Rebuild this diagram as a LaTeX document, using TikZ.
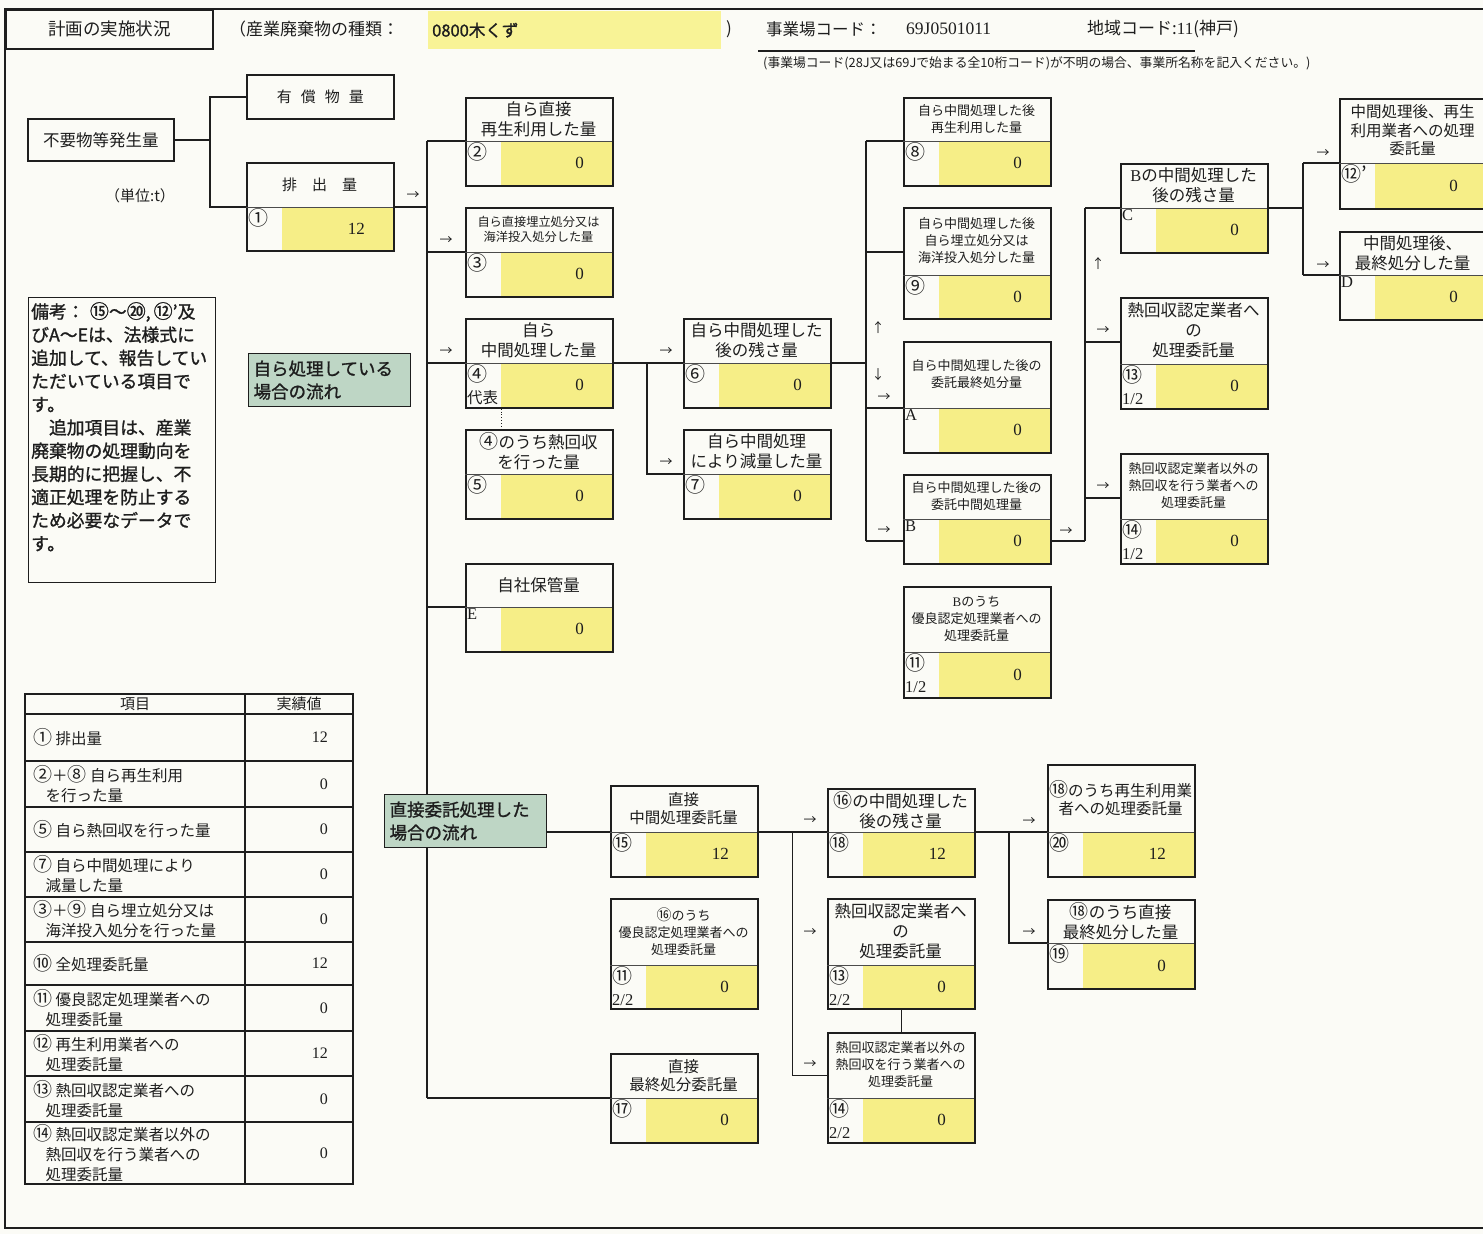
\documentclass[tikz,border=0pt]{standalone}
\usepackage{fontspec}
\setmainfont{Noto Sans CJK JP}
\newfontfamily\numfont{Liberation Serif}
\newfontfamily\gothb[FakeBold=1.2]{Noto Sans CJK JP}
\usetikzlibrary{positioning,calc}

\definecolor{ink}{RGB}{30,30,30}
\definecolor{paper}{RGB}{251,251,246}
\definecolor{qyellow}{RGB}{246,238,135}
\definecolor{hdryellow}{RGB}{248,243,150}
\definecolor{flowgreen}{RGB}{190,214,197}

\newcommand{\circnum}[1]{{\fontsize{19}{19}\selectfont #1}}
\newcommand{\partno}[1]{{\numfont\fontsize{16.5}{22}\selectfont #1}}

% data box: [title style]{name}{x}{y}{height}{title height}{title}{label}{value}
\newcommand{\qbox}[9][ttl]{%
  \fill[qyellow] (#3+36,#4+#6) rectangle (#3+147,#4+#5);
  \node[qframe,minimum height=#5,anchor=north west] (#2) at (#3,#4) {};
  \draw[qdiv] (#3,#4+#6) coordinate (#2-w) -- (#3+147,#4+#6) coordinate (#2-e);
  \coordinate (#2-lw) at (#3,#4+#6/2+#5/2);
  \coordinate (#2-le) at (#3+147,#4+#6/2+#5/2);
  \node[#1] (#2-t) at (#3+73.5,#4+#6/2) {#7};
  \node[lbl,anchor=north west] (#2-l) at (#3+2,#4+#6+1) {#8};
  \node[val,anchor=east] (#2-v) at (#3+119,#4+#6/2+#5/2) {#9};
}

\begin{document}
\begin{tikzpicture}[x=1pt,y=-1pt,
    every node/.style={text=ink},
    qframe/.style={draw=ink,line width=1.6pt,minimum width=147,inner sep=0},
    qdiv/.style={draw=ink!80,line width=0.8pt},
    pbox/.style={draw=ink,line width=1.6pt,inner sep=0,font=\fontsize{16.5}{20}\selectfont},
    ttl/.style={align=center,inner sep=0,font=\fontsize{16.5}{20}\selectfont},
    ttlmd/.style={align=center,inner sep=0,font=\fontsize{15.5}{18.5}\selectfont},
    ttlsp/.style={align=center,inner sep=0,font=\fontsize{15}{18}\selectfont},
    ttlsm/.style={align=center,inner sep=0,font=\fontsize{13}{17}\selectfont},
    ttlxs/.style={align=center,inner sep=0,font=\fontsize{12.2}{15}\selectfont},
    lbl/.style={align=left,inner sep=0,font=\fontsize{20}{22}\selectfont},
    val/.style={inner sep=0,font=\numfont\fontsize{17}{20}\selectfont},
    conn/.style={draw=ink,line width=1.5pt},
    thinconn/.style={draw=ink,line width=0.8pt},
    dotconn/.style={draw=ink,line width=0.9pt,dotted},
    arrtxt/.style={inner sep=0,font=\fontsize{13}{13}\selectfont},
    flowlbl/.style={draw=ink,line width=1.2pt,fill=flowgreen,align=left,text width=152,
        inner xsep=5,inner ysep=3,minimum height=53,anchor=north west,
        font=\gothb\fontsize{17.5}{23}\selectfont},
    tbl/.style={draw=ink,line width=1.3pt},
    titem/.style={anchor=west,align=left,inner sep=0,font=\fontsize{15.5}{20}\selectfont},
    tval/.style={anchor=east,inner sep=0,font=\numfont\fontsize{16}{20}\selectfont},
    hdrtxt/.style={anchor=west,inner sep=0,font=\fontsize{17}{20}\selectfont}
]
\useasboundingbox (0,0) rectangle (1483,1234);
\fill[paper] (0,0) rectangle (1483,1234);

% frame and header
\draw[ink,line width=1.6pt] (1495,9) -- (5,9) -- (5,1228) -- (1495,1228);
\node[draw=ink,line width=1.6pt,minimum width=207,minimum height=39,anchor=north west,
    font=\fontsize{17.5}{20}\selectfont] (hdr) at (5,9) {計画の実施状況};
\node[hdrtxt] (kind) at (229,29) {（産業廃棄物の種類：};
\node[fill=hdryellow,text width=285,inner xsep=4,minimum height=38,anchor=north west,
    font=\gothb\fontsize{16.5}{20}\selectfont] (waste) at (428,11) {0800木くず};
\node[hdrtxt] (rpar) at (726,29) {)};
\node[hdrtxt,font=\fontsize{16.5}{20}\selectfont] (codelbl) at (766,29) {事業場コード：};
\node[hdrtxt,font=\numfont\fontsize{17.5}{20}\selectfont] (code) at (906,29) {69J0501011};
\node[hdrtxt] (area) at (1087,29) {地域コード:{\numfont 11}(神戸)};
\draw[ink,line width=1.6pt] (758,51) -- (1195,51);
\node[anchor=west,inner sep=0,font=\fontsize{12.8}{14}\selectfont] (hint) at (763,63)
    {(事業場コード(28J又は69Jで始まる全10桁コード)が不明の場合、事業所名称を記入ください。)};

% left side
\node[pbox,minimum width=146,minimum height=42,anchor=north west] (gen) at (27,118) {不要物等発生量};
\node[pbox,minimum width=147,minimum height=44,anchor=north west,font=\fontsize{15}{18}\selectfont]
    (yusho) at (246,74) {有\hspace{.6em}償\hspace{.6em}物\hspace{.6em}量};
\node[inner sep=0,font=\fontsize{15}{18}\selectfont] (unit) at (140,196) {（単位:t）};
\node[draw=ink,line width=1.4pt,minimum width=187,minimum height=285,anchor=north west] (notebox) at (28,297) {};
\node[anchor=north west,align=left,inner sep=0,font=\gothb\fontsize{17.8}{23.2}\selectfont] (note) at (31,302)
    {備考：\hspace{.3em}\circnum{⑮}〜\circnum{⑳},\,\circnum{⑫}’及\\びA〜Eは、法様式に\\追加して、報告してい\\ただいている項目で\\す。\\
     \hspace*{1em}追加項目は、産業\\廃棄物の処理動向を\\長期的に把握し、不\\適正処理を防止する\\ため必要なデータで\\す。};

% data boxes
\qbox[ttlsp]{b1}{246}{162}{88}{45}{排\hspace{1em}出\hspace{1em}量}{①}{12}
\qbox{b2}{465}{97}{88}{44}{自ら直接\\再生利用した量}{②}{0}
\qbox[ttlxs]{b3}{465}{207}{89}{45}{自ら直接埋立処分又は\\海洋投入処分した量}{③}{0}
\qbox{b4}{465}{318}{89}{45}{自ら\\中間処理した量}{④\\{\fontsize{15.5}{22}\selectfont 代表}}{0}
\qbox{b5}{465}{429}{89}{45}{\circnum{④}のうち熱回収\\を行った量}{⑤}{0}
\qbox{bE}{465}{563}{88}{44}{自社保管量}{\partno{E}}{0}
\qbox{b6}{683}{318}{89}{45}{自ら中間処理した\\後の残さ量}{⑥}{0}
\qbox{b7}{683}{429}{89}{45}{自ら中間処理\\により減量した量}{⑦}{0}
\qbox[ttlsm]{b8}{903}{97}{88}{44}{自ら中間処理した後\\再生利用した量}{⑧}{0}
\qbox[ttlsm]{b9}{903}{207}{111}{68}{自ら中間処理した後\\自ら埋立処分又は\\海洋投入処分した量}{⑨}{0}
\qbox[ttlsm]{bA}{903}{341}{111}{67}{自ら中間処理した後の\\委託最終処分量}{\partno{A}}{0}
\qbox[ttlsm]{bB}{903}{474}{89}{45}{自ら中間処理した後の\\委託中間処理量}{\partno{B}}{0}
\qbox[ttlsm]{b11}{903}{586}{111}{66}{{\numfont B}のうち\\優良認定処理業者への\\処理委託量}{⑪\\\partno{1/2}}{0}
\qbox{bC}{1120}{163}{89}{45}{{\numfont B}の中間処理した\\後の残さ量}{\partno{C}}{0}
\qbox{b13}{1120}{297}{111}{67}{熱回収認定業者へ\\の\\処理委託量}{⑬\\\partno{1/2}}{0}
\qbox[ttlsm]{b14}{1120}{453}{110}{66}{熱回収認定業者以外の\\熱回収を行う業者への\\処理委託量}{⑭\\\partno{1/2}}{0}
\qbox[ttlmd]{b12}{1339}{98}{110}{65}{中間処理後、再生\\利用業者への処理\\委託量}{⑫’}{0}
\qbox{bD}{1339}{231}{88}{44}{中間処理後、\\最終処分した量}{\partno{D}}{0}
\qbox[ttlmd]{b15}{610}{785}{91}{47}{直接\\中間処理委託量}{⑮}{12}
\qbox[ttlsm]{b11x}{610}{898}{110}{67}{{\fontsize{15}{17}\selectfont ⑯}のうち\\優良認定処理業者への\\処理委託量}{⑪\\\partno{2/2}}{0}
\qbox[ttlmd]{b17}{610}{1053}{89}{45}{直接\\最終処分委託量}{⑰}{0}
\qbox{b18}{827}{788}{88}{44}{\circnum{⑯}の中間処理した\\後の残さ量}{⑱}{12}
\qbox{b13x}{827}{898}{110}{67}{熱回収認定業者へ\\の\\処理委託量}{⑬\\\partno{2/2}}{0}
\qbox[ttlsm]{b14x}{827}{1032}{110}{66}{熱回収認定業者以外の\\熱回収を行う業者への\\処理委託量}{⑭\\\partno{2/2}}{0}
\qbox[ttlmd]{b20}{1047}{764}{112}{68}{\circnum{⑱}のうち再生利用業\\者への処理委託量}{⑳}{12}
\qbox{b19}{1047}{899}{89}{44}{\circnum{⑱}のうち直接\\最終処分した量}{⑲}{0}

% junctions
\coordinate (j1) at (210,0);
\coordinate (t1) at (427,0);
\coordinate (j2) at (647,0);
\coordinate (t2) at (866,0);
\coordinate (t3) at (1085,0);
\coordinate (t4) at (1303,0);
\coordinate (t5) at (792,0);
\coordinate (j3) at (1009,0);

% connectors
\draw[conn] (gen.east) -- (gen.east -| j1);
\draw[conn] (yusho.west) -| (b1-w -| j1) -- (b1-w);
\draw[conn] (b1-e) -- (b1-e -| t1);
\draw[conn] (b2-w -| t1) -- (b17-w -| t1);
\draw[conn] (b2-w -| t1) -- (b2-w);
\draw[conn] (b3-w -| t1) -- (b3-w);
\draw[conn] (b4-w -| t1) -- (b4-w);
\draw[conn] (bE-w -| t1) -- (bE-w);
\draw[conn] (b17-w -| t1) -- (b17-w);
\draw[dotconn] ($(b4.south west)+(36,0)$) -- ($(b5.north west)+(36,0)$);
\draw[conn] (b4-e) -- (b6-w);
\draw[conn] (b4-e -| j2) |- (b7-w);
\draw[conn] (b6-e) -- (b6-e -| t2);
\draw[conn] (b8-w -| t2) -- (bB-lw -| t2);
\draw[conn] (b8-w -| t2) -- (b8-w);
\draw[conn] ($(b9.north west)+(0,45)$) -- +(-37,0);
\draw[conn] (bA-w -| t2) -- (bA-w);
\draw[conn] (bB-lw -| t2) -- (bB-lw);
\draw[conn] (bB-le) -- (bB-le -| t3);
\draw[conn] (bC-w -| t3) -- (bB-le -| t3);
\draw[conn] (bC-w -| t3) -- (bC-w);
\draw[conn] ($(b13.north west)+(0,45)$) -- +(-35,0);
\draw[conn] ($(b14.north west)+(0,45)$) -- +(-35,0);
\draw[conn] (bC-e) -- (bC-e -| t4);
\draw[conn] (b12-w -| t4) -- (bD-w -| t4);
\draw[conn] (b12-w -| t4) -- (b12-w);
\draw[conn] (bD-w -| t4) -- (bD-w);
\draw[conn] (b15-e) -- (b18-w);
\draw[thinconn] (b15-e -| t5) |- ($(b14x.north west)+(0,43)$);
\draw[conn] (b13x.south) -- (b14x.north);
\draw[conn] (b18-e) -- (b20-w);
\draw[conn] (b18-e -| j3) |- (b19-w);

% flow labels
\node[flowlbl] (flow1) at (248,353) {自ら処理している\\場合の流れ};
\node[flowlbl] (flow2) at (384,794) {直接委託処理した\\場合の流れ};
\draw[conn] (flow2.east |- b15-w) -- (b15-w);

% arrow marks
\node[arrtxt] (a1) at (413,196) {→};
\node[arrtxt] (a2) at (446,241) {→};
\node[arrtxt] (a3) at (446,352) {→};
\node[arrtxt] (a4) at (666,352) {→};
\node[arrtxt] (a5) at (666,463) {→};
\node[arrtxt] (a6) at (878,328) {↑};
\node[arrtxt] (a7) at (878,375) {↓};
\node[arrtxt] (a8) at (884,398) {→};
\node[arrtxt] (a9) at (884,531) {→};
\node[arrtxt] (a10) at (1066,532) {→};
\node[arrtxt] (a11) at (1098,264) {↑};
\node[arrtxt] (a12) at (1103,331) {→};
\node[arrtxt] (a13) at (1103,487) {→};
\node[arrtxt] (a14) at (1323,154) {→};
\node[arrtxt] (a15) at (1323,266) {→};
\node[arrtxt] (a16) at (810,821) {→};
\node[arrtxt] (a17) at (810,933) {→};
\node[arrtxt] (a18) at (810,1065) {→};
\node[arrtxt] (a19) at (1029,822) {→};
\node[arrtxt] (a20) at (1029,933) {→};

% summary table
\draw[tbl] (25,694) rectangle (353,1184);
\draw[tbl] (245,694) -- (245,1184)
    (25,714) -- (353,714) (25,761) -- (353,761) (25,807) -- (353,807)
    (25,852) -- (353,852) (25,897) -- (353,897) (25,942) -- (353,942)
    (25,985) -- (353,985) (25,1031) -- (353,1031) (25,1076) -- (353,1076)
    (25,1122) -- (353,1122);
\node[inner sep=0,font=\fontsize{15}{18}\selectfont] (th1) at (135,704) {項目};
\node[inner sep=0,font=\fontsize{15}{18}\selectfont] (th2) at (299,704) {実績値};
\node[titem] (it1) at (33,737) {\circnum{①} 排出量};
\node[titem] (it2) at (33,784) {\circnum{②}＋\circnum{⑧} 自ら再生利用\\\hspace*{.8em}を行った量};
\node[titem] (it3) at (33,829) {\circnum{⑤} 自ら熱回収を行った量};
\node[titem] (it4) at (33,874) {\circnum{⑦} 自ら中間処理により\\\hspace*{.8em}減量した量};
\node[titem] (it5) at (33,919) {\circnum{③}＋\circnum{⑨} 自ら埋立処分又は\\\hspace*{.8em}海洋投入処分を行った量};
\node[titem] (it6) at (33,963) {\circnum{⑩} 全処理委託量};
\node[titem] (it7) at (33,1008) {\circnum{⑪} 優良認定処理業者への\\\hspace*{.8em}処理委託量};
\node[titem] (it8) at (33,1053) {\circnum{⑫} 再生利用業者への\\\hspace*{.8em}処理委託量};
\node[titem] (it9) at (33,1099) {\circnum{⑬} 熱回収認定業者への\\\hspace*{.8em}処理委託量};
\node[titem] (it10) at (33,1153) {\circnum{⑭} 熱回収認定業者以外の\\\hspace*{.8em}熱回収を行う業者への\\\hspace*{.8em}処理委託量};
\node[tval] (v1) at (328,737) {12};
\node[tval] (v2) at (328,784) {0};
\node[tval] (v3) at (328,829) {0};
\node[tval] (v4) at (328,874) {0};
\node[tval] (v5) at (328,919) {0};
\node[tval] (v6) at (328,963) {12};
\node[tval] (v7) at (328,1008) {0};
\node[tval] (v8) at (328,1053) {12};
\node[tval] (v9) at (328,1099) {0};
\node[tval] (v10) at (328,1153) {0};
\end{tikzpicture}
\end{document}
